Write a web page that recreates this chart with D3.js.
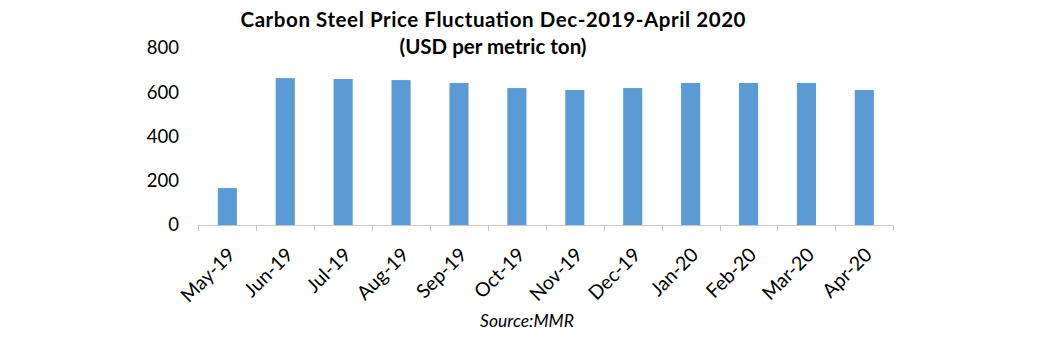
<!DOCTYPE html>
<html><head><meta charset="utf-8">
<script src="https://cdn.jsdelivr.net/npm/d3@7"></script>
<style>body{margin:0;background:#fff;} svg{display:block;} text{font-family:Lato, "Open Sans", sans-serif;}</style>
</head><body><svg id="c" width="1063" height="338"></svg>
<script>
const categories = ["May-19","Jun-19","Jul-19","Aug-19","Sep-19","Oct-19","Nov-19","Dec-19","Jan-20","Feb-20","Mar-20","Apr-20"];
const prices = [167,664,660,655,642,619,610,619,642,642,642,610];
const yTicks = [0,200,400,600,800];
const titleLines = ["Carbon Steel Price Fluctuation  Dec-2019-April 2020","(USD per metric ton)"];
const sourceText = "Source:MMR";

const svg = d3.select("#c");
const x = d3.scaleBand().domain(categories).range([198.4, 893.3]).paddingInner(0.67).paddingOuter(0.335);
const y = d3.scaleLinear().domain([0,800]).range([225,48]);

svg.selectAll("rect.bar").data(prices).join("rect").attr("class","bar")
  .attr("x",(d,i)=>x(categories[i])).attr("width",x.bandwidth())
  .attr("y",d=>y(d)).attr("height",d=>y(0)-y(d)).attr("fill","#5b9bd5");

// x axis
const step = x.step();
const x0 = 198.4;
svg.append("line").attr("x1",x0).attr("x2",893.3).attr("y1",y(0)+0.5).attr("y2",y(0)+0.5).attr("stroke","#c8c8c8").attr("stroke-width",1);
svg.selectAll("line.tk").data(d3.range(categories.length+1)).join("line").attr("class","tk")
  .attr("x1",i=>Math.round(x0+i*step)+0.5).attr("x2",i=>Math.round(x0+i*step)+0.5)
  .attr("y1",y(0)).attr("y2",y(0)+6).attr("stroke","#c8c8c8");

svg.selectAll("text.xl").data(categories).join("text").attr("class","xl")
  .attr("transform",d=>`translate(${x(d)+x.bandwidth()/2+9},${y(0)+31}) rotate(-45)`)
  .attr("text-anchor","end").attr("font-size",19.5).attr("fill","#000").text(d=>d);

// y labels
svg.selectAll("text.yl").data(yTicks).join("text").attr("class","yl")
  .attr("x",179).attr("y",d=>y(d)).attr("dy","0.35em").attr("text-anchor","end")
  .attr("font-size",18.5).attr("fill","#000").text(d=>d);

// title
svg.selectAll("text.t").data(titleLines).join("text").attr("class","t")
  .attr("x",493).attr("y",(d,i)=>27+i*27).attr("text-anchor","middle")
  .attr("font-size",20.5).attr("font-weight","bold").attr("fill","#000")
  .each(function(d,i){ if(i===0) d3.select(this).attr("textLength",505).attr("lengthAdjust","spacing"); })
  .text(d=>d);

svg.append("text").attr("x",527).attr("y",327).attr("text-anchor","middle")
  .attr("font-size",17.5).attr("font-style","italic").attr("fill","#000").text(sourceText);
</script></body></html>
